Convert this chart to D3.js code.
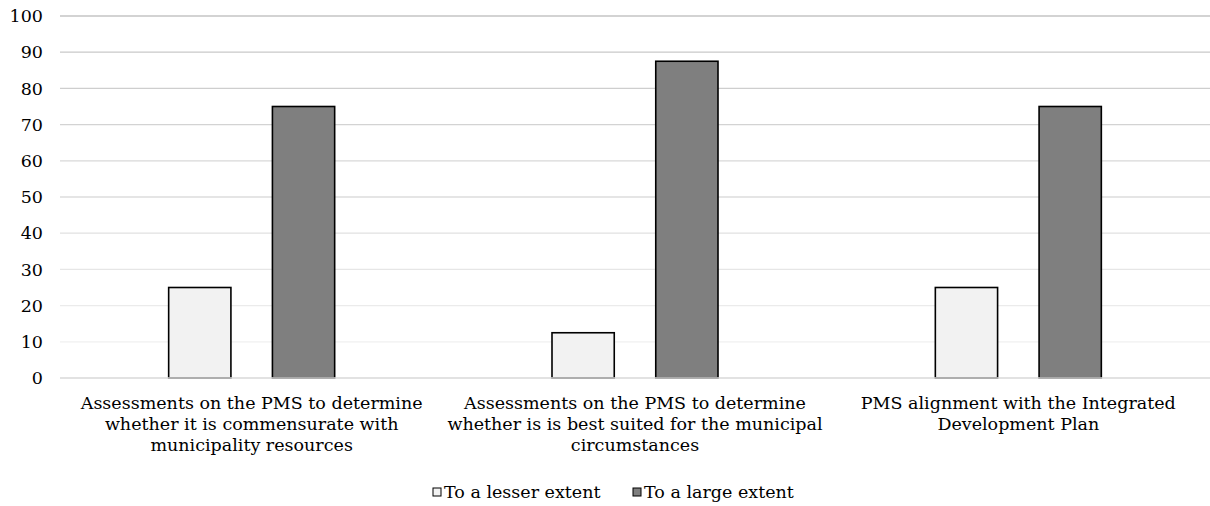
<!DOCTYPE html>
<html>
<head>
<meta charset="utf-8">
<script src="https://cdn.jsdelivr.net/npm/d3@7"></script>
<style>
  body { margin: 0; background: #fff; }
  svg text { font-family: "DejaVu Serif", serif; fill: #000; }
</style>
</head>
<body>
<div id="chart"></div>
<script>
const categories = [
  "Assessments on the PMS to determine whether it is commensurate with municipality resources",
  "Assessments on the PMS to determine whether is is best suited for the municipal circumstances",
  "PMS alignment with the Integrated Development Plan"
];
// label lines as they break in the original
const categoryLines = [
  ["Assessments on the PMS to determine", "whether it is commensurate with", "municipality resources"],
  ["Assessments on the PMS to determine", "whether is is best suited for the municipal", "circumstances"],
  ["PMS alignment with the Integrated", "Development Plan"]
];
const seriesNames = ["To a lesser extent", "To a large extent"];
const lesserValues = [25, 12.5, 25];
const largeValues = [75, 87.5, 75];
const yTicks = [0, 10, 20, 30, 40, 50, 60, 70, 80, 90, 100];

const colors = ["#f2f2f2", "#7f7f7f"];
const fontSize = "17.5px";
const width = 1210, height = 506;
const margin = { top: 16, right: 0, bottom: 128, left: 60 };

const svg = d3.select("#chart").append("svg")
  .attr("width", width)
  .attr("height", height);

const innerW = width - margin.left - margin.right;
const innerH = height - margin.top - margin.bottom;

const g = svg.append("g")
  .attr("transform", "translate(" + margin.left + "," + margin.top + ")");

const x0 = d3.scaleBand().domain(categories).range([0, innerW]).padding(0);
const groupW = 166;
const x1 = d3.scaleBand().domain(seriesNames)
  .range([(x0.bandwidth() - groupW) / 2, (x0.bandwidth() + groupW) / 2])
  .paddingInner(0.4).paddingOuter(0);
const y = d3.scaleLinear().domain([0, 100]).range([innerH, 0]);

// gridlines fade from darker at top to lighter at bottom
const gridColor = d3.scaleLinear().domain([100, 10]).range(["#c4c4c4", "#f0f0f0"]);
g.selectAll(".grid")
  .data(yTicks.filter(d => d > 0))
  .enter().append("line")
  .attr("class", "grid")
  .attr("x1", 0).attr("x2", innerW)
  .attr("y1", d => y(d)).attr("y2", d => y(d))
  .attr("stroke", d => gridColor(d))
  .attr("stroke-width", 1.3);

// y axis labels
const yAxis = g.append("g")
  .call(d3.axisLeft(y).tickValues(yTicks).tickSize(0).tickPadding(17));
yAxis.select(".domain").remove();
yAxis.selectAll("text")
  .style("font-family", '"DejaVu Serif", serif')
  .style("font-size", fontSize)
  .attr("fill", "#000");

// bars
const data = categories.map((c, i) => ({ cat: c, values: [lesserValues[i], largeValues[i]] }));
const groups = g.selectAll(".grp")
  .data(data)
  .enter().append("g")
  .attr("class", "grp")
  .attr("transform", d => "translate(" + x0(d.cat) + ",0)");

groups.selectAll("rect")
  .data(d => d.values.map((v, j) => ({ name: seriesNames[j], v: v, j: j })))
  .enter().append("rect")
  .attr("x", d => x1(d.name))
  .attr("y", d => y(d.v))
  .attr("width", x1.bandwidth())
  .attr("height", d => y(0) - y(d.v))
  .attr("fill", d => colors[d.j])
  .attr("stroke", "#000")
  .attr("stroke-width", 1.6);

// baseline
g.append("line")
  .attr("x1", 0).attr("x2", innerW)
  .attr("y1", y(0)).attr("y2", y(0))
  .attr("stroke", "#d9d9d9")
  .attr("stroke-width", 1.5);

// category labels
categories.forEach((c, i) => {
  const t = g.append("text")
    .attr("x", x0(c) + x0.bandwidth() / 2)
    .attr("y", innerH + 31)
    .attr("text-anchor", "middle")
    .style("font-size", fontSize);
  categoryLines[i].forEach((line, k) => {
    t.append("tspan")
      .attr("x", x0(c) + x0.bandwidth() / 2)
      .attr("dy", k === 0 ? 0 : 21)
      .text(line);
  });
});

// legend
const legend = svg.append("g").attr("transform", "translate(0," + 492 + ")");
const legendX = [433, 633];
seriesNames.forEach((name, j) => {
  legend.append("rect")
    .attr("x", legendX[j]).attr("y", -4)
    .attr("width", 8).attr("height", 8)
    .attr("fill", colors[j])
    .attr("stroke", "#000")
    .attr("stroke-width", 1);
  legend.append("text")
    .attr("x", legendX[j] + 11)
    .attr("y", 6)
    .style("font-size", fontSize)
    .text(name);
});
</script>
</body>
</html>
